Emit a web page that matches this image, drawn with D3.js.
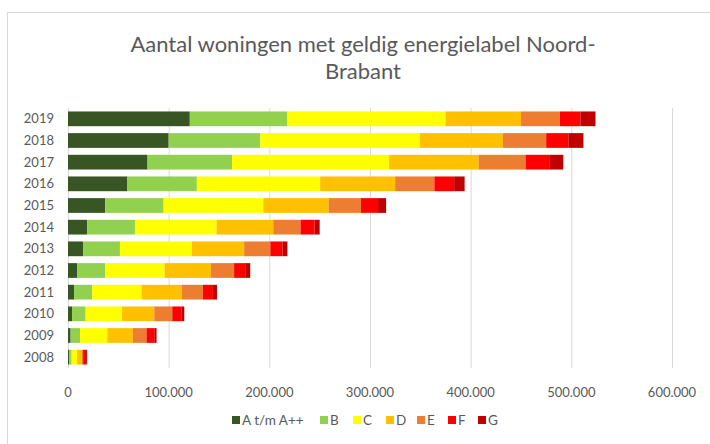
<!DOCTYPE html>
<html>
<head>
<meta charset="utf-8">
<script src="https://cdn.jsdelivr.net/npm/d3@7"></script>
<style>
  body { margin: 0; background: #fff; }
  text { font-family: Lato, "Open Sans", sans-serif; }
</style>
</head>
<body>
<div id="chart"></div>
<script>
const years = ["2019", "2018", "2017", "2016", "2015", "2014", "2013", "2012", "2011", "2010", "2009", "2008"];
const labels = ["A t/m A++", "B", "C", "D", "E", "F", "G"];
const colors = ["#375623", "#92d050", "#ffff00", "#ffc000", "#ed7d31", "#ff0000", "#c00000"];
// counts per label, same order as years
const labelA = [121000, 100000, 79000, 59000, 37000, 19000, 15000, 9000, 6000, 4000, 2600, 1000];
const labelB = [97000, 91000, 84000, 69000, 58000, 47500, 36600, 28000, 18000, 13500, 9400, 2600];
const labelC = [157000, 158600, 156000, 122500, 99000, 81100, 71400, 59000, 49000, 36100, 27000, 5400];
const labelD = [75000, 82400, 89000, 74500, 65000, 56400, 52000, 46000, 40000, 32100, 25500, 4500];
const labelE = [38600, 43000, 46500, 39000, 32000, 27000, 26000, 23000, 21000, 17900, 13500, 1500];
const labelF = [20400, 22000, 23500, 19600, 17000, 14000, 12000, 11000, 10000, 9400, 7700, 3000];
const labelG = [15000, 15000, 14000, 10400, 8000, 5000, 5000, 5000, 4000, 2500, 2300, 1000];
const xTicks = [0, 100000, 200000, 300000, 400000, 500000, 600000];

const series = [labelA, labelB, labelC, labelD, labelE, labelF, labelG];
const rows = years.map((y, i) => {
  const r = { year: y };
  labels.forEach((l, j) => r[l] = series[j][i]);
  return r;
});

const width = 710, height = 444;
const margin = { top: 108, right: 38, bottom: 76, left: 68 };

const svg = d3.select("#chart").append("svg")
  .attr("width", width)
  .attr("height", height);

// chart frame
svg.append("rect")
  .attr("x", 7.5).attr("y", 12.5)
  .attr("width", 720).attr("height", 450)
  .attr("fill", "#fff")
  .attr("stroke", "#d9d9d9");

const x = d3.scaleLinear().domain([0, 600000]).range([margin.left, width - margin.right]);
const y = d3.scaleBand().domain(years).range([margin.top, height - margin.bottom]).paddingInner(0.32).paddingOuter(0.16);

// gridlines
svg.append("g")
  .selectAll("line")
  .data(xTicks)
  .join("line")
  .attr("x1", d => x(d) + 0.5).attr("x2", d => x(d) + 0.5)
  .attr("y1", margin.top).attr("y2", height - margin.bottom)
  .attr("stroke", "#d9d9d9");

const stack = d3.stack().keys(labels)(rows);

svg.append("g")
  .selectAll("g")
  .data(stack)
  .join("g")
  .attr("fill", (d, i) => colors[i])
  .selectAll("rect")
  .data(d => d)
  .join("rect")
  .attr("x", d => x(d[0]))
  .attr("width", d => x(d[1]) - x(d[0]))
  .attr("y", d => y(d.data.year))
  .attr("height", y.bandwidth());

// x axis labels
const fmt = d3.formatLocale({ decimal: ",", thousands: ".", grouping: [3], currency: ["€", ""] }).format(",");
svg.append("g")
  .selectAll("text")
  .data(xTicks)
  .join("text")
  .attr("x", d => x(d))
  .attr("y", 397)
  .attr("text-anchor", "middle")
  .attr("font-size", "13px")
  .attr("fill", "#595959")
  .text(d => fmt(d));

// y axis labels
svg.append("g")
  .selectAll("text")
  .data(years)
  .join("text")
  .attr("x", 54)
  .attr("y", d => y(d) + y.bandwidth() / 2)
  .attr("dy", "0.35em")
  .attr("text-anchor", "end")
  .attr("font-size", "13px")
  .attr("fill", "#595959")
  .text(d => d);

// title
const title = svg.append("text")
  .attr("text-anchor", "middle")
  .attr("font-size", "22px")
  .attr("fill", "#595959");
title.append("tspan").attr("x", 363).attr("y", 52).text("Aantal woningen met geldig energielabel Noord-");
title.append("tspan").attr("x", 363).attr("y", 79).text("Brabant");

// legend
const legendX = [232, 320, 353, 386, 417, 448, 478];
const legend = svg.append("g")
  .selectAll("g")
  .data(labels)
  .join("g")
  .attr("transform", (d, i) => `translate(${legendX[i]},420)`);
legend.append("rect")
  .attr("x", 0).attr("y", -4)
  .attr("width", 8).attr("height", 8)
  .attr("fill", (d, i) => colors[i]);
legend.append("text")
  .attr("x", 10).attr("y", 0)
  .attr("dy", "0.35em")
  .attr("font-size", "13.5px")
  .attr("fill", "#595959")
  .text(d => d);
</script>
</body>
</html>
